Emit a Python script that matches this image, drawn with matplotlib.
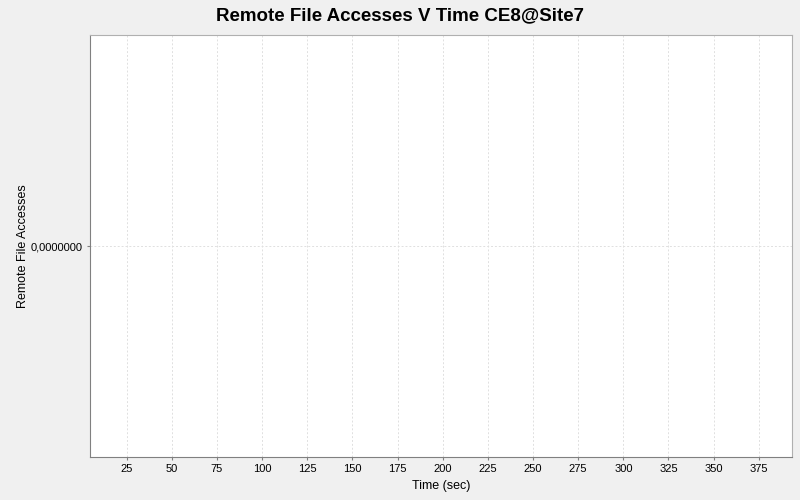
import matplotlib
matplotlib.use("Agg")
import matplotlib.pyplot as plt

# empty series: no remote file accesses were recorded
time_sec = []
accesses = []
x_ticks = [25, 50, 75, 100, 125, 150, 175, 200, 225, 250, 275, 300, 325, 350, 375]
y_ticks = [0.0]

plt.rcParams['font.family'] = ['Liberation Sans', 'DejaVu Sans']

fig = plt.figure(figsize=(8, 5), dpi=100, facecolor='#f0f0f0')
ax = fig.add_axes([89.5 / 800, 43 / 500, 702.5 / 800, 422 / 500])
ax.set_facecolor('white')

ax.plot(time_sec, accesses, color='red')

ax.set_xlim(4.4, 393.4)
ax.set_ylim(-1, 1)
ax.set_xticks(x_ticks)
ax.set_yticks(y_ticks)
ax.set_yticklabels(['0,0000000'])
ax.tick_params(labelsize=8, length=2, color='gray', pad=3)

ax.grid(True, color='#e0e0e0', linestyle=(0, (2, 2)), linewidth=0.7)
for side in ['left', 'bottom']:
    ax.spines[side].set_color('#808080')
for side in ['top', 'right']:
    ax.spines[side].set_color('#b0b0b0')

ax.set_xlabel('Time (sec)', fontsize=9, labelpad=4)
ax.set_ylabel('Remote File Accesses', fontsize=9, labelpad=1)
fig.suptitle('Remote File Accesses V Time CE8@Site7', fontsize=13.5,
             fontweight='bold', y=0.985)

fig.savefig('out.png', dpi=100, facecolor=fig.get_facecolor())
